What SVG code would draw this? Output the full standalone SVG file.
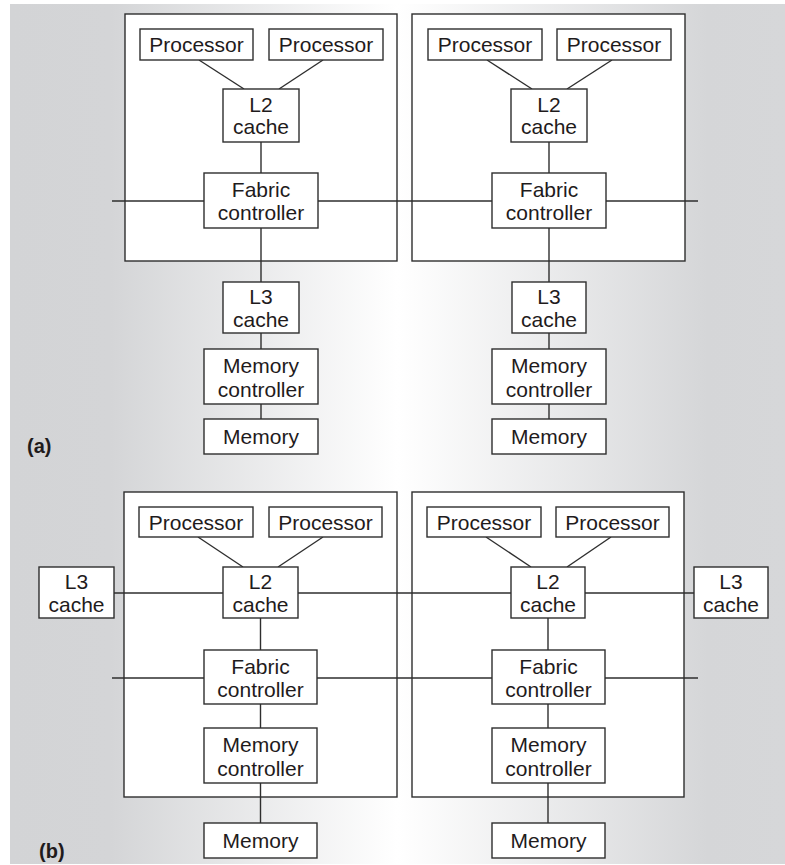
<svg xmlns="http://www.w3.org/2000/svg" width="785" height="865" viewBox="0 0 785 865">
<defs>
<linearGradient id="bg" gradientUnits="userSpaceOnUse" x1="10" y1="0" x2="785" y2="0">
<stop offset="0" stop-color="#d3d4d6"/>
<stop offset="0.13" stop-color="#d4d5d7"/>
<stop offset="0.5" stop-color="#ffffff"/>
<stop offset="0.9" stop-color="#d5d6d8"/>
<stop offset="1" stop-color="#d6d7d9"/>
</linearGradient>
<style>
.box{fill:#ffffff;stroke:#2e2e2e;stroke-width:1.4}
.frame{fill:#ffffff;stroke:#2e2e2e;stroke-width:1.4}
.ln{stroke:#2e2e2e;stroke-width:1.4;fill:none}
.t{font-family:"Liberation Sans",Arial,sans-serif;font-size:21px;fill:#1f1b1c;text-anchor:middle}
.lab{font-family:"Liberation Sans",Arial,sans-serif;font-size:20px;font-weight:bold;fill:#1f1b1c}
</style>
</defs>
<rect x="10" y="4" width="775" height="860" fill="url(#bg)"/>

<g id="frames">
<rect class="frame" x="125" y="14" width="272" height="247"/>
<rect class="frame" x="412" y="14" width="273" height="247"/>
<rect class="frame" x="124" y="492" width="273" height="305"/>
<rect class="frame" x="412" y="492" width="272" height="305"/>
</g>

<g id="connectors">
<line class="ln" x1="199" y1="60" x2="244" y2="89"/>
<line class="ln" x1="323" y1="60" x2="279" y2="89"/>
<line class="ln" x1="487" y1="60" x2="532" y2="89"/>
<line class="ln" x1="612" y1="60" x2="567" y2="89"/>
<line class="ln" x1="261" y1="142" x2="261" y2="173"/>
<line class="ln" x1="549" y1="142" x2="549" y2="173"/>
<line class="ln" x1="112" y1="201" x2="204" y2="201"/>
<line class="ln" x1="318" y1="201" x2="492" y2="201"/>
<line class="ln" x1="606" y1="201" x2="698" y2="201"/>
<line class="ln" x1="261" y1="228" x2="261" y2="282"/>
<line class="ln" x1="549" y1="228" x2="549" y2="282"/>
<line class="ln" x1="261" y1="333" x2="261" y2="349"/>
<line class="ln" x1="549" y1="333" x2="549" y2="349"/>
<line class="ln" x1="261" y1="404" x2="261" y2="419"/>
<line class="ln" x1="549" y1="404" x2="549" y2="419"/>
<line class="ln" x1="198" y1="537" x2="243" y2="567"/>
<line class="ln" x1="323" y1="537" x2="278" y2="567"/>
<line class="ln" x1="486" y1="537" x2="531" y2="567"/>
<line class="ln" x1="611" y1="537" x2="567" y2="567"/>
<line class="ln" x1="114" y1="593" x2="223" y2="593"/>
<line class="ln" x1="298" y1="593" x2="511" y2="593"/>
<line class="ln" x1="585" y1="593" x2="694" y2="593"/>
<line class="ln" x1="260.5" y1="618" x2="260.5" y2="650"/>
<line class="ln" x1="548" y1="618" x2="548" y2="650"/>
<line class="ln" x1="112" y1="678" x2="204" y2="678"/>
<line class="ln" x1="317" y1="678" x2="492" y2="678"/>
<line class="ln" x1="605" y1="678" x2="698" y2="678"/>
<line class="ln" x1="260.5" y1="704" x2="260.5" y2="728"/>
<line class="ln" x1="548" y1="704" x2="548" y2="728"/>
<line class="ln" x1="260.5" y1="783" x2="260.5" y2="823"/>
<line class="ln" x1="548" y1="783" x2="548" y2="823"/>
</g>

<g id="a-proc1"><rect class="box" x="140" y="29" width="113" height="31"/><text class="t" x="196.5" y="52">Processor</text></g>
<g id="a-proc2"><rect class="box" x="269" y="29" width="114" height="31"/><text class="t" x="326" y="52">Processor</text></g>
<g id="a-l2-1"><rect class="box" x="223" y="89" width="76" height="53"/><text class="t" x="261" y="112">L2</text><text class="t" x="261" y="134">cache</text></g>
<g id="a-fab-1"><rect class="box" x="204" y="173" width="114" height="55"/><text class="t" x="261" y="197">Fabric</text><text class="t" x="261" y="220">controller</text></g>
<g id="a-l3-1"><rect class="box" x="223" y="282" width="76" height="51"/><text class="t" x="261" y="304">L3</text><text class="t" x="261" y="327">cache</text></g>
<g id="a-mc-1"><rect class="box" x="204" y="349" width="114" height="55"/><text class="t" x="261" y="373">Memory</text><text class="t" x="261" y="397">controller</text></g>
<g id="a-mem-1"><rect class="box" x="204" y="419" width="114" height="35"/><text class="t" x="261" y="444">Memory</text></g>

<g id="a-proc3"><rect class="box" x="428" y="29" width="114" height="31"/><text class="t" x="485" y="52">Processor</text></g>
<g id="a-proc4"><rect class="box" x="557" y="29" width="114" height="31"/><text class="t" x="614" y="52">Processor</text></g>
<g id="a-l2-2"><rect class="box" x="511" y="89" width="76" height="53"/><text class="t" x="549" y="112">L2</text><text class="t" x="549" y="134">cache</text></g>
<g id="a-fab-2"><rect class="box" x="492" y="173" width="114" height="55"/><text class="t" x="549" y="197">Fabric</text><text class="t" x="549" y="220">controller</text></g>
<g id="a-l3-2"><rect class="box" x="512" y="282" width="74" height="51"/><text class="t" x="549" y="304">L3</text><text class="t" x="549" y="327">cache</text></g>
<g id="a-mc-2"><rect class="box" x="492" y="349" width="114" height="55"/><text class="t" x="549" y="373">Memory</text><text class="t" x="549" y="397">controller</text></g>
<g id="a-mem-2"><rect class="box" x="492" y="419" width="114" height="35"/><text class="t" x="549" y="444">Memory</text></g>

<text class="lab" x="27" y="453">(a)</text>

<g id="b-proc1"><rect class="box" x="139" y="507" width="114" height="30"/><text class="t" x="196" y="530">Processor</text></g>
<g id="b-proc2"><rect class="box" x="269" y="507" width="113" height="30"/><text class="t" x="325.5" y="530">Processor</text></g>
<g id="b-l3-1"><rect class="box" x="39" y="567" width="75" height="51"/><text class="t" x="76.5" y="589">L3</text><text class="t" x="76.5" y="612">cache</text></g>
<g id="b-l2-1"><rect class="box" x="223" y="567" width="75" height="51"/><text class="t" x="260.5" y="589">L2</text><text class="t" x="260.5" y="612">cache</text></g>
<g id="b-fab-1"><rect class="box" x="204" y="650" width="113" height="54"/><text class="t" x="260.5" y="674">Fabric</text><text class="t" x="260.5" y="697">controller</text></g>
<g id="b-mc-1"><rect class="box" x="204" y="728" width="113" height="55"/><text class="t" x="260.5" y="752">Memory</text><text class="t" x="260.5" y="776">controller</text></g>
<g id="b-mem-1"><rect class="box" x="204" y="823" width="113" height="35"/><text class="t" x="260.5" y="848">Memory</text></g>

<g id="b-proc3"><rect class="box" x="427" y="507" width="114" height="30"/><text class="t" x="484" y="530">Processor</text></g>
<g id="b-proc4"><rect class="box" x="556" y="507" width="113" height="30"/><text class="t" x="612.5" y="530">Processor</text></g>
<g id="b-l2-2"><rect class="box" x="511" y="567" width="74" height="51"/><text class="t" x="548" y="589">L2</text><text class="t" x="548" y="612">cache</text></g>
<g id="b-l3-2"><rect class="box" x="694" y="567" width="74" height="51"/><text class="t" x="731" y="589">L3</text><text class="t" x="731" y="612">cache</text></g>
<g id="b-fab-2"><rect class="box" x="492" y="650" width="113" height="54"/><text class="t" x="548.5" y="674">Fabric</text><text class="t" x="548.5" y="697">controller</text></g>
<g id="b-mc-2"><rect class="box" x="492" y="728" width="113" height="55"/><text class="t" x="548.5" y="752">Memory</text><text class="t" x="548.5" y="776">controller</text></g>
<g id="b-mem-2"><rect class="box" x="492" y="823" width="113" height="35"/><text class="t" x="548.5" y="848">Memory</text></g>

<text class="lab" x="39" y="858">(b)</text>
</svg>
